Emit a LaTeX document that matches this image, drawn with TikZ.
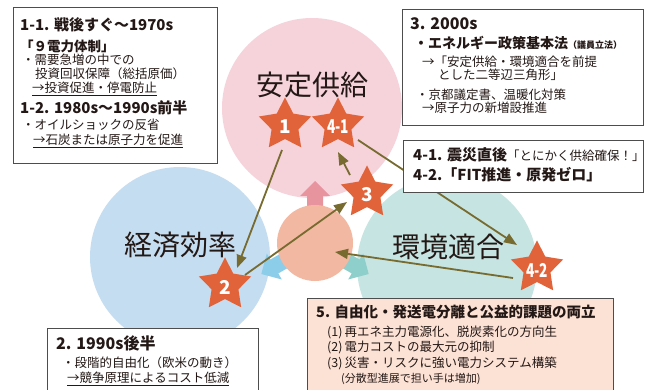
\documentclass[tikz,border=0pt]{standalone}
\usepackage{fontspec}
\setmainfont{Noto Sans CJK JP}
\usetikzlibrary{shapes.geometric,arrows.meta,calc}
\definecolor{pinkc}{HTML}{F6D3DB}
\definecolor{bluec}{HTML}{C5DDF0}
\definecolor{tealc}{HTML}{C6E4E1}
\definecolor{centc}{HTML}{F2B8A2}
\definecolor{pinkarr}{HTML}{E8949F}
\definecolor{bluearr}{HTML}{8CCDEA}
\definecolor{tealarr}{HTML}{8ECFCC}
\definecolor{starc}{HTML}{E0633A}
\definecolor{connc}{HTML}{776B30}
\definecolor{txt}{HTML}{231815}
\definecolor{boxline}{HTML}{4D4D4D}
\definecolor{peach}{HTML}{FCE1D5}
\newcommand{\fsz}[1]{\fontsize{#1}{#1}\selectfont}
\tikzset{
  bigcirc/.style={circle, draw=none, minimum size=180pt, inner sep=0pt},
  biglabel/.style={font=\fsz{28}, text=txt, inner sep=0pt},
  starnode/.style={star, star points=5, star point ratio=1.95, fill=starc, draw=none,
    minimum size=55pt, inner sep=0pt},
  startext/.style={inner sep=0pt, text=white, font=\bfseries\fsz{19}},
  conn/.style={draw=connc, line width=1.8pt, -{Triangle[length=13pt,width=10pt]}},
  box/.style={draw=boxline, line width=1.1pt, fill=white, inner sep=0pt, anchor=north west},
  tx/.style={anchor=base west, inner sep=0pt, text=txt, font=\fsz{12.5}},
  bx/.style={anchor=base west, inner sep=0pt, text=txt, font=\bfseries\fsz{15}},
}
\begin{document}
\begin{tikzpicture}[x=1pt,y=-1pt]
\useasboundingbox (0,0) rectangle (648,390);
\clip (0,0) rectangle (648,390);
\fill[white] (0,0) rectangle (648,390);
% big circles
\node[bigcirc, fill=pinkc] (cpink) at (312,108) {};
\node[bigcirc, fill=bluec] (cblue) at (180,257) {};
\node[bigcirc, fill=tealc] (cteal) at (447,266) {};
\node[biglabel] (lpink) at (312,85) {安定供給};
\node[biglabel] (lblue) at (180,245) {経済効率};
\node[biglabel] (lteal) at (448,247) {環境適合};
% block arrows from the centre
\coordinate (cc0) at (315,243);
\foreach \ang/\col in {90/pinkarr,210/bluearr,330/tealarr}{
  \begin{scope}[shift={(cc0)}, rotate=\ang]
    \fill[\col] (28,-8) -- (47,-8) -- (47,-15) -- (62,0) -- (47,15) -- (47,8) -- (28,8) -- cycle;
  \end{scope}
}
\node[circle, fill=centc, minimum size=76pt, inner sep=0pt] (cc) at (cc0) {};
% stars
\node[starnode] (s1) at (285,125) {};
\node[starnode] (s41) at (338,125) {};
\node[starnode] (s3) at (367,193) {};
\node[starnode] (s2) at (225,285) {};
\node[starnode] (s42) at (537,268) {};
\node[startext] (s1t) at ($(s1)+(0,2)$) {1};
\node[startext] (s41t) at ($(s41)+(0,2)$) {\scalebox{0.72}[1]{4-1}};
\node[startext] (s3t) at ($(s3)+(0,2)$) {3};
\node[startext] (s2t) at ($(s2)+(0,2)$) {2};
\node[startext] (s42t) at ($(s42)+(0,2)$) {\scalebox{0.72}[1]{4-2}};
% connectors
\draw[conn] ($(s1)+(-3,25)$) -- ($(s2)+(12,-17)$);
\draw[conn] ($(s2)+(20,-10)$) -- ($(s3)+(-20,9)$);
\draw[conn] ($(s3)+(-17,-18)$) -- ($(s41)+(0,27)$);
\draw[conn] ($(s41)+(20,15)$) -- ($(s42)+(-20,-23)$);
\draw[conn] ($(s42)+(-24,10)$) -- ($(cc)+(20,9)$);
% box 1
\node[box, minimum width=204pt, minimum height=156pt] (b1) at (13,7) {};
\node[bx] (t11) at (20,30.5) {1-1. 戦後すぐ～1970s};
\node[bx, font=\bfseries\fsz{13.5}] (t12) at (20,52) {「９電力体制」};
\node[tx] (t13) at (22,65) {・需要急増の中での};
\node[tx] (t14) at (35,79) {投資回収保障（総括原価）};
\node[tx] (t15) at (32,93) {\underline{→投資促進・停電防止}};
\node[bx] (t16) at (20,113.5) {1-2. 1980s～1990s前半};
\node[tx] (t17) at (22,130) {・オイルショックの反省};
\node[tx] (t18) at (33,145) {\underline{→石炭または原子力を促進}};
% box 3
\node[box, minimum width=241pt, minimum height=116pt] (b3) at (402,9) {};
\node[bx, font=\bfseries\fsz{16}] (t31) at (410,30) {3. 2000s};
\node[bx, font=\bfseries\fsz{14}] (t32) at (414,49) {・エネルギー政策基本法{\fsz{9}（議員立法）}};
\node[tx] (t33) at (422,66.5) {→「安定供給・環境適合を前提};
\node[tx] (t34) at (438,79.5) {とした二等辺三角形」};
\node[tx] (t35) at (416,99.5) {・京都議定書、温暖化対策};
\node[tx] (t36) at (422,112.5) {→原子力の新増設推進};
% box 4
\node[box, minimum width=240pt, minimum height=52pt] (b4) at (403,140) {};
\node[bx, font=\bfseries\fsz{15}] (t41) at (413,160.5) {4-1. 震災直後{\mdseries\fsz{12.5}「とにかく供給確保！」}};
\node[bx, font=\bfseries\fsz{15}] (t42) at (413,181) {4-2.「FIT推進・原発ゼロ」};
% box 5
\node[box, fill=peach, minimum width=306pt, minimum height=100pt] (b5) at (307,298) {};
\node[bx, font=\bfseries\fsz{14.5}] (t51) at (316,317.5) {5. 自由化・発送電分離と公益的課題の両立};
\node[tx] (t52) at (327,336.5) {(1)\,再エネ主力電源化、脱炭素化の方向生};
\node[tx] (t53) at (327,351.5) {(2)\,電力コストの最大元の抑制};
\node[tx] (t54) at (327,367.5) {(3)\,災害・リスクに強い電力システム構築};
\node[tx, font=\fsz{11}] (t55) at (341,382) {(分散型進展で担い手は増加)};
% box 2
\node[box, minimum width=211pt, minimum height=80pt] (b2) at (47,328) {};
\node[bx, font=\bfseries\fsz{16}] (t21) at (56,349) {2. 1990s後半};
\node[tx] (t22) at (62,367.5) {・段階的自由化（欧米の動き）};
\node[tx] (t23) at (67,382.5) {\underline{→競争原理によるコスト低減}};
\end{tikzpicture}
\end{document}
